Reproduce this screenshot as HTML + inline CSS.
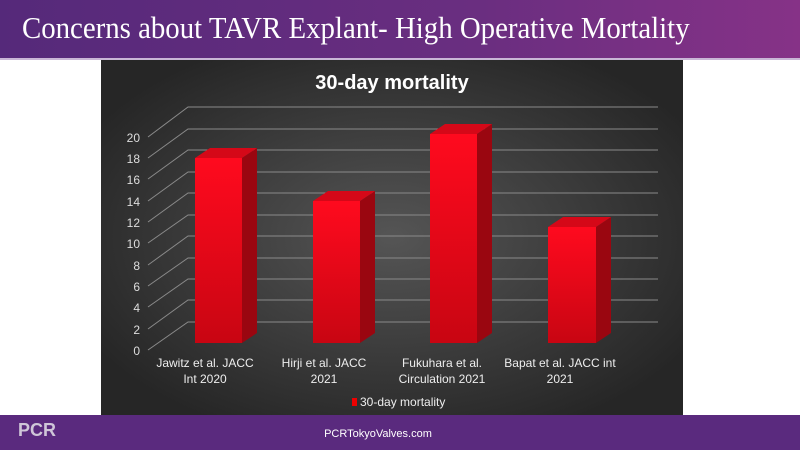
<!DOCTYPE html>
<html><head><style>
body{margin:0;width:800px;height:450px;overflow:hidden;background:#fff;font-family:"Liberation Sans",sans-serif;position:relative}
.hd{position:absolute;left:0;top:0;width:800px;height:58px;background:linear-gradient(90deg,#55297a,#6a2e80 60%,#863287);border-bottom:2px solid #c9b6d6}
.hd span{position:absolute;left:22px;top:10px;font-family:"Liberation Serif",serif;font-size:31px;color:#fff;transform:scaleX(0.93);transform-origin:0 0;white-space:nowrap}
</style></head><body>
<div class="hd"><span>Concerns about TAVR Explant- High Operative Mortality</span></div>
<svg width="800" height="450" style="position:absolute;left:0;top:0">
<defs>
<radialGradient id="bg" cx="0.5" cy="0.5" r="0.6">
<stop offset="0" stop-color="#555"/><stop offset="1" stop-color="#262626"/></radialGradient>
<linearGradient id="fr" x1="0" y1="0" x2="0" y2="1"><stop offset="0" stop-color="#ff0a1e"/><stop offset="1" stop-color="#c80512"/></linearGradient>
</defs>
<rect x="101" y="60" width="582" height="355" fill="url(#bg)"/>
<text x="392" y="89" fill="#fff" font-size="20" font-weight="bold" text-anchor="middle">30-day mortality</text>
<g stroke="#8a8a8a" stroke-width="1" fill="none">
<path d="M148 350 L188 322 H658"/><path d="M148 329 L188 300 H658"/><path d="M148 307 L188 279 H658"/><path d="M148 286 L188 258 H658"/><path d="M148 265 L188 236 H658"/><path d="M148 243 L188 215 H658"/><path d="M148 222 L188 193 H658"/><path d="M148 201 L188 172 H658"/><path d="M148 179 L188 150 H658"/><path d="M148 158 L188 129 H658"/><path d="M148 137 L188 107 H658"/>
</g>
<g fill="#ddd" font-size="12" text-anchor="end">
<text x="140" y="355">0</text><text x="140" y="334">2</text><text x="140" y="312">4</text><text x="140" y="291">6</text><text x="140" y="270">8</text><text x="140" y="248">10</text><text x="140" y="227">12</text><text x="140" y="206">14</text><text x="140" y="184">16</text><text x="140" y="163">18</text><text x="140" y="142">20</text>
</g>
<g>
<polygon points="242,158 257,148 257,333 242,343" fill="#9a0610"/><polygon points="195,158 210,148 257,148 242,158" fill="#d50818"/><rect x="195" y="158" width="47" height="185" fill="url(#fr)"/>
<polygon points="360,201 375,191 375,333 360,343" fill="#9a0610"/><polygon points="313,201 328,191 375,191 360,201" fill="#d50818"/><rect x="313" y="201" width="47" height="142" fill="url(#fr)"/>
<polygon points="477,134 492,124 492,333 477,343" fill="#9a0610"/><polygon points="430,134 445,124 492,124 477,134" fill="#d50818"/><rect x="430" y="134" width="47" height="209" fill="url(#fr)"/>
<polygon points="596,227 611,217 611,333 596,343" fill="#9a0610"/><polygon points="548,227 563,217 611,217 596,227" fill="#d50818"/><rect x="548" y="227" width="48" height="116" fill="url(#fr)"/>
</g>
<g fill="#eee" font-size="12" text-anchor="middle">
<text x="205" y="367">Jawitz et al. JACC</text><text x="205" y="383">Int 2020</text>
<text x="324" y="367">Hirji et al. JACC</text><text x="324" y="383">2021</text>
<text x="442" y="367">Fukuhara et al.</text><text x="442" y="383">Circulation 2021</text>
<text x="560" y="367">Bapat et al. JACC int</text><text x="560" y="383">2021</text>
</g>
<rect x="352" y="398" width="5" height="8" fill="#e00"/>
<text x="360" y="406" fill="#eee" font-size="12">30-day mortality</text>
<rect x="0" y="415" width="800" height="35" fill="#5a2a7e"/>
<text x="18" y="436" fill="#cfc6d8" font-size="18" font-weight="bold">PCR</text>
<text x="378" y="437" fill="#fff" font-size="11" text-anchor="middle">PCRTokyoValves.com</text>
</svg>
</body></html>
